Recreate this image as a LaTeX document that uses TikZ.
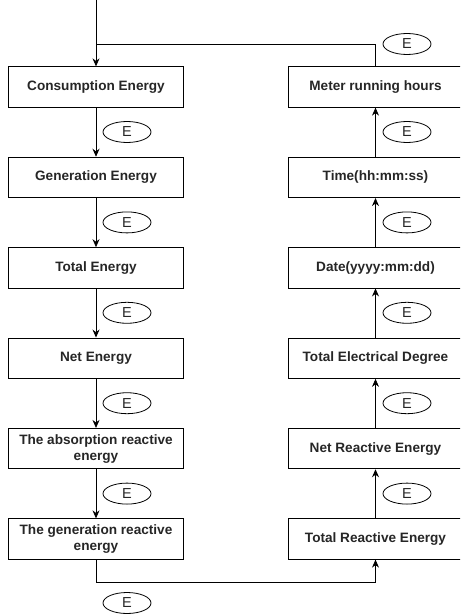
\documentclass[tikz,border=0pt]{standalone}
\usepackage{fontspec}
\setmainfont{Liberation Sans}
\usetikzlibrary{arrows.meta, positioning, shapes.geometric}

\begin{document}
\begin{tikzpicture}[>={Stealth[length=8pt, width=7pt]}, x=1pt, y=-1pt,
    line width=0.8pt,
    box/.style={draw, minimum width=175pt, minimum height=40.5pt,
                inner sep=1pt, align=center, text=black!85,
                font=\bfseries\fontsize{13.6}{16}\selectfont},
    key/.style={draw, ellipse, minimum width=48pt, minimum height=21pt,
                inner sep=0pt, text=black!85, font=\fontsize{14.5}{16}\selectfont}]
  \useasboundingbox (0,0) rectangle (460,615);
  \clip (0,0) rectangle (460,615);

  % Left column
  \foreach \i/\t in {1/Consumption Energy, 2/Generation Energy, 3/Total Energy,
                     4/Net Energy, 5/{The absorption reactive\\energy},
                     6/{The generation reactive\\energy}} {
    \node[box] (l\i) at (96, 87+90.4*\i-90.4) {\t};
  }
  % Right column
  \foreach \i/\t in {1/Meter running hours, 2/Time(hh:mm:ss), 3/Date(yyyy:mm:dd),
                     4/Total Electrical Degree, 5/Net Reactive Energy,
                     6/Total Reactive Energy} {
    \node[box] (r\i) at (375.5, 87+90.4*\i-90.4) {\t};
  }

  % Key presses between the steps
  \foreach \i [evaluate=\i as \j using int(\i+1)] in {1,...,5} {
    \draw[->] (l\i.south) -- (l\j.north);
    \draw[->] (r\j.north) -- (r\i.south);
    \node[key] (el\i) at (127, 132+90.4*\i-90.4) {E};
    \node[key] (er\i) at (407, 132+90.4*\i-90.4) {E};
  }

  % Entry and loop back
  \coordinate (start) at (96,0);
  \coordinate (join) at (96,44);
  \draw[->] (start) -- (l1.north);
  \draw (r1.north) |- (join);
  \node[key] (etop) at (407,44) {E};

  % Bottom link
  \draw[->] (l6.south) -- ++(0,23) -| (r6.south);
  \node[key] (ebot) at (127,603) {E};
\end{tikzpicture}
\end{document}
